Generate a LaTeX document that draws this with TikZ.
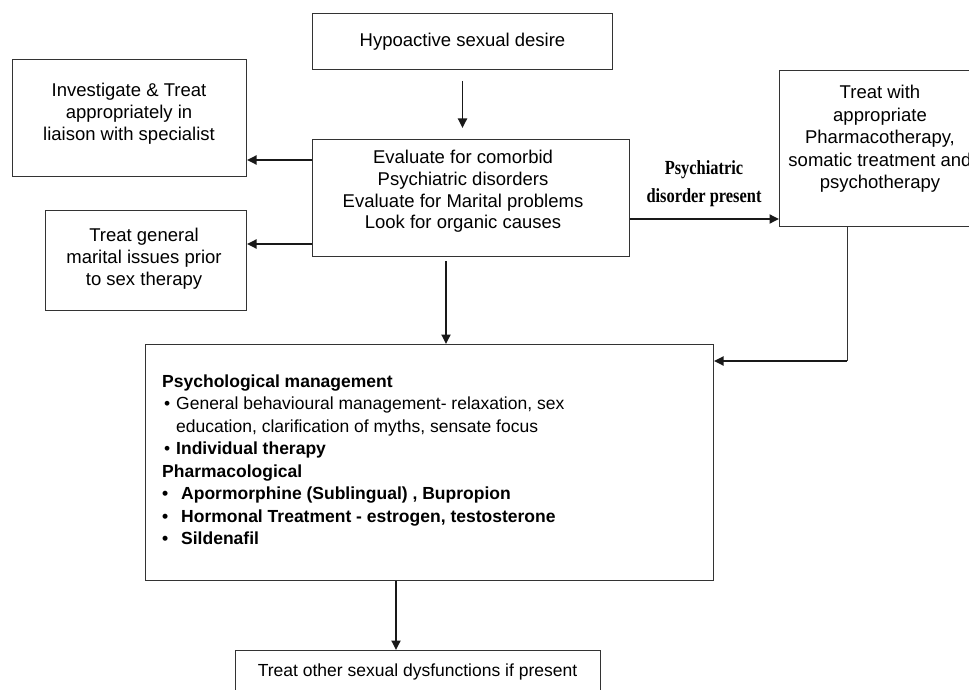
\documentclass[tikz,border=0pt]{standalone}
\usepackage{fontspec}
\setmainfont{Liberation Sans}
\newfontfamily\timesfont[FakeStretch=0.82]{Liberation Serif}
\usetikzlibrary{arrows.meta}
\begin{document}
\begin{tikzpicture}[x=1pt,y=-1pt,
  box/.style={draw=black!80, line width=1pt, rectangle, inner sep=0pt, anchor=north west},
  txt/.style={inner sep=0pt, align=center, font=\fontsize{18.5}{21.7}\selectfont},
  arr/.style={draw=black!90, line width=1.8pt, -{Triangle[length=9.5pt,width=9pt]}},
  thinline/.style={draw=black!80, line width=1pt}]
\useasboundingbox (0,0) rectangle (969,690);
\fill[white] (0,0) rectangle (969,690);
\clip (0,0) rectangle (969,690);

% boxes
\node[box, txt, minimum width=300pt, minimum height=56pt] (hsd) at (312,13) {Hypoactive sexual desire};
\node[box, minimum width=317pt, minimum height=117pt] (evalbox) at (312,139) {};
\node[txt, anchor=north] (evalt) at (463,150) {Evaluate for comorbid\\Psychiatric disorders\\Evaluate for Marital problems\\Look for organic causes};

\node[box, minimum width=234pt, minimum height=117pt] (inv) at (12,59) {};
\node[txt, anchor=north] (invt) at (129,83) {Investigate \& Treat\\appropriately in\\liaison with specialist};

\node[box, minimum width=201pt, minimum height=100pt] (gen) at (45,210) {};
\node[txt, anchor=north, font=\fontsize{18.5}{22}\selectfont] (gent) at (144,228) {Treat general\\marital issues prior\\to sex therapy};

\node[box, minimum width=220pt, minimum height=156pt] (rbox) at (779,70) {};
\node[txt, anchor=north, font=\fontsize{18.5}{22.5}\selectfont] (rboxt) at (880,85) {Treat with\\appropriate\\Pharmacotherapy,\\somatic treatment and\\psychotherapy};

\node[box, minimum width=568pt, minimum height=236pt] (big) at (145,344) {};
\node[anchor=north west, inner sep=0pt, align=left, font=\fontsize{17.5}{22.5}\selectfont] (bigt) at (162,374.5) {%
\textbf{Psychological management}\\
\makebox[14pt][l]{\hspace{2pt}\textbullet}General behavioural management- relaxation, sex\\
\hspace*{14pt}education, clarification of myths, sensate focus\\
\makebox[14pt][l]{\hspace{2pt}\textbullet}\textbf{Individual therapy}\\
\textbf{Pharmacological}\\
\textbf{\makebox[19pt][l]{\textbullet}Apormorphine (Sublingual) , Bupropion}\\
\textbf{\makebox[19pt][l]{\textbullet}Hormonal Treatment - estrogen, testosterone}\\
\textbf{\makebox[19pt][l]{\textbullet}Sildenafil}};

\node[box, minimum width=365pt, minimum height=60pt] (bot) at (235,650) {};
\node[txt, font=\fontsize{17.5}{21}\selectfont] (bott) at (417.5,672) {Treat other sexual dysfunctions if present};

% label
\node[inner sep=0pt, align=center, font=\timesfont\bfseries\fontsize{20}{28}\selectfont] (psy) at (704,184) {Psychiatric\\disorder present};

% connectors
\coordinate (y1) at (0,160);
\coordinate (y2) at (0,244);
\coordinate (y3) at (0,219);
\coordinate (c1) at (847,361);
\coordinate (x1) at (446,0);
\coordinate (x2) at (396,0);

\draw[arr] ([yshift=-11pt]hsd.south) -- ([yshift=11pt]evalbox.north -| hsd.south);
\draw[arr] (evalbox.west |- y1) -- (inv.east |- y1);
\draw[arr] (evalbox.west |- y2) -- (gen.east |- y2);
\draw[arr] (evalbox.east |- y3) -- (rbox.west |- y3);
\draw[thinline] (rbox.south -| c1) -- (c1);
\draw[arr] (c1) -- (big.east |- c1);
\draw[arr] ([yshift=-4pt]evalbox.south -| x1) -- (big.north -| x1);
\draw[arr] (big.south -| x2) -- (bot.north -| x2);
\end{tikzpicture}
\end{document}
